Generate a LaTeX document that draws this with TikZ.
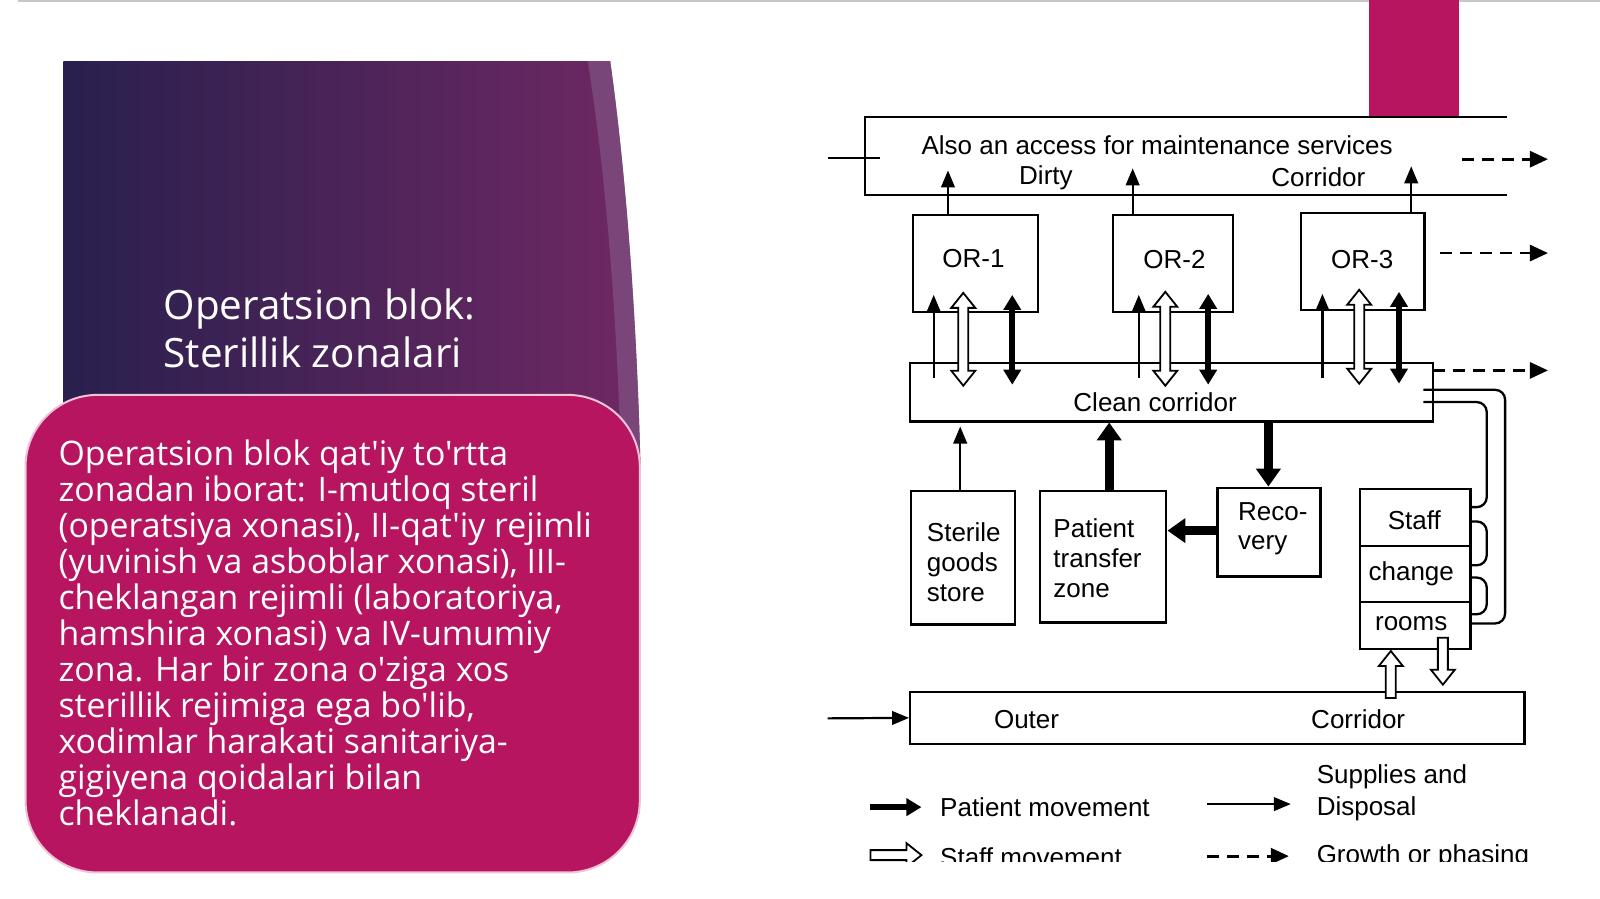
\documentclass[tikz,border=0pt]{standalone}
\usepackage{fontspec}
\setmainfont{Liberation Sans}
\newfontfamily\slidefont{Open Sans}[Ligatures=TeXOff]
\usetikzlibrary{arrows.meta,calc,fit}
\definecolor{magbox}{RGB}{183,21,96}
\definecolor{panelL}{RGB}{40,32,78}
\definecolor{panelR}{RGB}{112,40,100}
\definecolor{panelband}{RGB}{128,84,132}
\newcommand{\hollowW}{2.5pt}
\newcommand{\hollowH}{6pt}
\newcommand{\hollowL}{7.5pt}
\tikzset{
  box/.style={draw, line width=1.15pt, inner sep=0pt},
  lbl/.style={inner sep=0pt, font=\fontsize{13}{14.8}\selectfont},
  supply/.style={line width=1.1pt, -{Triangle[length=8.5pt,width=6.8pt]}},
  patient/.style={line width=3pt, -{Triangle[length=7.5pt,width=8.5pt]}},
  patienttwo/.style={line width=3pt, {Triangle[length=7.5pt,width=8.5pt]}-{Triangle[length=7.5pt,width=8.5pt]}},
  patientbig/.style={line width=4.6pt, -{Triangle[length=9pt,width=12pt]}},
  growth/.style={line width=1.4pt, dash pattern=on 6pt off 4pt, -{Triangle[length=9pt,width=8pt]}},
  staffone/.style={draw, fill=white, line width=0.9pt, line join=miter, to path={
    let \p1=(\tikztostart), \p2=(\tikztotarget),
        \n1={veclen(\x2-\x1,\y2-\y1)},
        \n2={(\x2-\x1)/(\n1)}, \n3={(\y2-\y1)/(\n1)} in
    ({\x1-\hollowW*(\n3)},{\y1+\hollowW*(\n2)})
    -- ({\x2-\hollowL*(\n2)-\hollowW*(\n3)},{\y2-\hollowL*(\n3)+\hollowW*(\n2)})
    -- ({\x2-\hollowL*(\n2)-\hollowH*(\n3)},{\y2-\hollowL*(\n3)+\hollowH*(\n2)})
    -- (\x2,\y2)
    -- ({\x2-\hollowL*(\n2)+\hollowH*(\n3)},{\y2-\hollowL*(\n3)-\hollowH*(\n2)})
    -- ({\x2-\hollowL*(\n2)+\hollowW*(\n3)},{\y2-\hollowL*(\n3)-\hollowW*(\n2)})
    -- ({\x1+\hollowW*(\n3)},{\y1-\hollowW*(\n2)}) -- cycle}},
  stafftwo/.style={draw, fill=white, line width=0.9pt, line join=miter, to path={
    let \p1=(\tikztostart), \p2=(\tikztotarget),
        \n1={veclen(\x2-\x1,\y2-\y1)},
        \n2={(\x2-\x1)/(\n1)}, \n3={(\y2-\y1)/(\n1)} in
    (\x1,\y1)
    -- ({\x1+\hollowL*(\n2)-\hollowH*(\n3)},{\y1+\hollowL*(\n3)+\hollowH*(\n2)})
    -- ({\x1+\hollowL*(\n2)-\hollowW*(\n3)},{\y1+\hollowL*(\n3)+\hollowW*(\n2)})
    -- ({\x2-\hollowL*(\n2)-\hollowW*(\n3)},{\y2-\hollowL*(\n3)+\hollowW*(\n2)})
    -- ({\x2-\hollowL*(\n2)-\hollowH*(\n3)},{\y2-\hollowL*(\n3)+\hollowH*(\n2)})
    -- (\x2,\y2)
    -- ({\x2-\hollowL*(\n2)+\hollowH*(\n3)},{\y2-\hollowL*(\n3)-\hollowH*(\n2)})
    -- ({\x2-\hollowL*(\n2)+\hollowW*(\n3)},{\y2-\hollowL*(\n3)-\hollowW*(\n2)})
    -- ({\x1+\hollowL*(\n2)+\hollowW*(\n3)},{\y1+\hollowL*(\n3)-\hollowW*(\n2)})
    -- ({\x1+\hollowL*(\n2)+\hollowH*(\n3)},{\y1+\hollowL*(\n3)-\hollowH*(\n2)})
    -- cycle}},
}
\begin{document}
\begin{tikzpicture}[x=0.5102pt,y=-0.5102pt]
\useasboundingbox (0,0) rectangle (1568,881);
\fill[white] (0,0) rectangle (1568,881);
\draw[black!22, line width=1.2pt] (18,1) -- (1568,1);

% ---------- left slide panel ----------
\shade[left color=panelL, right color=panelR]
  (62,60) -- (598,60) .. controls (612,160) and (624,300) .. (628,470) -- (62,470) -- cycle;
\fill[panelband, opacity=0.7]
  (576,60) -- (598,60) .. controls (612,160) and (624,300) .. (628,470)
  -- (609,470) .. controls (605,300) and (592,160) .. (576,60) -- cycle;
\fill[magbox, draw=white!75!magbox, line width=1pt, rounded corners=36pt]
  (25,387) rectangle (627,855);
\node[anchor=north west, inner sep=0pt, text=white, align=left,
      font=\slidefont\fontsize{20.2}{24}\selectfont] (title) at (160,283)
  {Operatsion blok:\\Sterillik zonalari};
\node[anchor=north west, inner sep=0pt, text=white, align=left,
      font=\slidefont\fontsize{16.9}{18}\selectfont] (body) at (57,431)
  {Operatsion blok qat'iy to'rtta\\
   zonadan iborat: I-mutloq steril\\
   (operatsiya xonasi), II-qat'iy rejimli\\
   (yuvinish va asboblar xonasi), III-\\
   cheklangan rejimli (laboratoriya,\\
   hamshira xonasi) va IV-umumiy\\
   zona. Har bir zona o'ziga xos\\
   sterillik rejimiga ega bo'lib,\\
   xodimlar harakati sanitariya-\\
   gigiyena qoidalari bilan\\
   cheklanadi.};

\fill[magbox] (1342,0) rectangle (1430,114);

% ---------- diagram ----------
% dirty corridor
\node[inner sep=0pt, fit={(848,115)(1476,191)}] (dirty) {};
\draw[line width=1.15pt] (dirty.north east) -- (dirty.north west) -- (dirty.south west) -- (dirty.south east);
\coordinate (dirtyin) at (811,155);
\coordinate (dirtytick) at (862,155);
\draw[line width=1.15pt] (dirtyin) -- (dirtytick);
\node[lbl] (dtitle) at (1134,142) {Also an access for maintenance services};
\node[lbl] (dleft) at (1025,174) {Dirty};
\node[lbl] (dright) at (1292,174) {Corridor};

% operating rooms
\node[box, fit={(895,211)(1017,306)}] (or1) {};
\node[box, fit={(1091,211)(1208,306)}] (or2) {};
\node[box, fit={(1275,209)(1396,304)}] (or3) {};
\node[lbl] (or1l) at (954,253) {OR-1};
\node[lbl] (or2l) at (1151,254) {OR-2};
\node[lbl] (or3l) at (1335,254) {OR-3};

% clean corridor
\node[box, fit={(892,356)(1404,413)}] (clean) {};
\node[lbl] (cleanl) at (1132,394) {Clean corridor};

% lower rooms
\node[box, fit={(893,481)(995,612)}] (sterile) {};
\node[lbl, anchor=west, align=left] (sterilel) at (908,551) {Sterile\\goods\\store};
\node[box, fit={(1019,481)(1143,610)}] (transfer) {};
\node[lbl, anchor=west, align=left] (transferl) at (1032,547) {Patient\\transfer\\zone};
\node[box, fit={(1193,478)(1294,565)}] (recovery) {};
\node[lbl, anchor=west, align=left] (recoveryl) at (1213,518) {Reco-\\very};
\node[box, fit={(1333,479)(1441,636)}] (staff) {};
\coordinate (div1w) at (1333,535); \coordinate (div1e) at (1441,535);
\coordinate (div2w) at (1333,590); \coordinate (div2e) at (1441,590);
\draw[line width=1.15pt] (div1w) -- (div1e);
\draw[line width=1.15pt] (div2w) -- (div2e);
\node[lbl] (staffl1) at (1386,510) {Staff};
\node[lbl] (staffl2) at (1383,562) {change};
\node[lbl] (staffl3) at (1383,611) {rooms};

% outer corridor
\node[box, fit={(892,678)(1494,729)}] (outer) {};
\node[lbl] (outerl1) at (1006,705) {Outer};
\node[lbl] (outerl2) at (1331,705) {Corridor};
\coordinate (outerin) at (811,704);
\draw[supply] (outerin) -- (outer.west);

% growth arrows
\coordinate (g1a) at (1433,156); \coordinate (g1b) at (1517,156);
\coordinate (g2a) at (1411,248); \coordinate (g2b) at (1517,248);
\coordinate (g3a) at (1404,363); \coordinate (g3b) at (1517,363);
\draw[growth] (g1a) -- (g1b);
\draw[growth] (g2a) -- (g2b);
\draw[growth] (g3a) -- (g3b);

% OR -> dirty corridor
\coordinate (d1a) at (929,211); \coordinate (d1b) at (929,167);
\coordinate (d2a) at (1110,211); \coordinate (d2b) at (1110,165);
\coordinate (d3a) at (1383,209); \coordinate (d3b) at (1383,163);
\draw[supply] (d1a) -- (d1b);
\draw[supply] (d2a) -- (d2b);
\draw[supply] (d3a) -- (d3b);

% clean corridor <-> ORs
\coordinate (s1a) at (915,370); \coordinate (s1b) at (915,289);
\coordinate (h1a) at (944,378); \coordinate (h1b) at (944,287);
\coordinate (p1a) at (992,377); \coordinate (p1b) at (992,289);
\coordinate (s2a) at (1116,370); \coordinate (s2b) at (1116,289);
\coordinate (h2a) at (1142,378); \coordinate (h2b) at (1142,286);
\coordinate (p2a) at (1184,377); \coordinate (p2b) at (1184,288);
\coordinate (s3a) at (1296,370); \coordinate (s3b) at (1296,288);
\coordinate (h3a) at (1332,376); \coordinate (h3b) at (1332,284);
\coordinate (p3a) at (1371,376); \coordinate (p3b) at (1371,286);
\draw[supply] (s1a) -- (s1b);
\draw[supply] (s2a) -- (s2b);
\draw[supply] (s3a) -- (s3b);
\path[stafftwo] (h1a) to (h1b);
\path[stafftwo] (h2a) to (h2b);
\path[stafftwo] (h3a) to (h3b);
\draw[patienttwo] (p1a) -- (p1b);
\draw[patienttwo] (p2a) -- (p2b);
\draw[patienttwo] (p3a) -- (p3b);

% lower flows
\coordinate (sterup) at (941,418);
\draw[supply] (sterile.north -| sterup) -- (sterup);
\coordinate (trup) at (1087,414);
\draw[patientbig] (transfer.north -| trup) -- (trup);
\coordinate (recdown) at (1243,413);
\draw[patientbig] (recdown) -- (recovery.north -| recdown);
\coordinate (rectr) at (1193,520);
\draw[patientbig] (rectr) -- (transfer.east |- rectr);

% staff change links
\coordinate (la1) at (1395,382); \coordinate (la2) at (1475,382);
\coordinate (la3) at (1475,611); \coordinate (la4) at (1441,611);
\draw[line width=1.15pt, rounded corners=5pt] (la1) -- (la2) -- (la3) -- (la4);
\coordinate (lb1) at (1395,394); \coordinate (lb2) at (1457,394);
\coordinate (lb3) at (1457,497); \coordinate (lb4) at (1441,497);
\draw[line width=1.15pt, rounded corners=5pt] (lb1) -- (lb2) -- (lb3) -- (lb4);
\coordinate (lc1) at (1441,511); \coordinate (lc2) at (1457,511);
\coordinate (lc3) at (1457,554); \coordinate (lc4) at (1441,554);
\draw[line width=1.15pt, rounded corners=5pt] (lc1) -- (lc2) -- (lc3) -- (lc4);
\coordinate (ld1) at (1441,566); \coordinate (ld2) at (1457,566);
\coordinate (ld3) at (1457,602); \coordinate (ld4) at (1441,602);
\draw[line width=1.15pt, rounded corners=5pt] (ld1) -- (ld2) -- (ld3) -- (ld4);

% staff rooms <-> outer corridor
\coordinate (su1) at (1363,684); \coordinate (su2) at (1363,638);
\coordinate (sd1) at (1414,625); \coordinate (sd2) at (1414,671);
\path[staffone] (su1) to (su2);
\path[staffone] (sd1) to (sd2);

% ---------- legend ----------
\begin{scope}
\clip (800,740) rectangle (1560,844);
\coordinate (lp1) at (853,791); \coordinate (lp2) at (903,791);
\draw[patient] (lp1) -- (lp2);
\node[lbl, anchor=west] (lpl) at (921,791) {Patient movement};
\coordinate (ls1) at (1183,788); \coordinate (ls2) at (1265,788);
\draw[supply] (ls1) -- (ls2);
\node[lbl, anchor=west, align=left, font=\fontsize{13}{16.3}\selectfont] (lsl) at (1290,777) {Supplies and\\Disposal};
\coordinate (lh1) at (853,838); \coordinate (lh2) at (903,838);
\path[staffone] (lh1) to (lh2);
\node[lbl, anchor=west] (lhl) at (921,840) {Staff movement};
\coordinate (lg1) at (1183,839); \coordinate (lg2) at (1263,839);
\draw[growth] (lg1) -- (lg2);
\node[lbl, anchor=west] (lgl) at (1290,840) {Growth or phasing};
\end{scope}
\end{tikzpicture}
\end{document}
